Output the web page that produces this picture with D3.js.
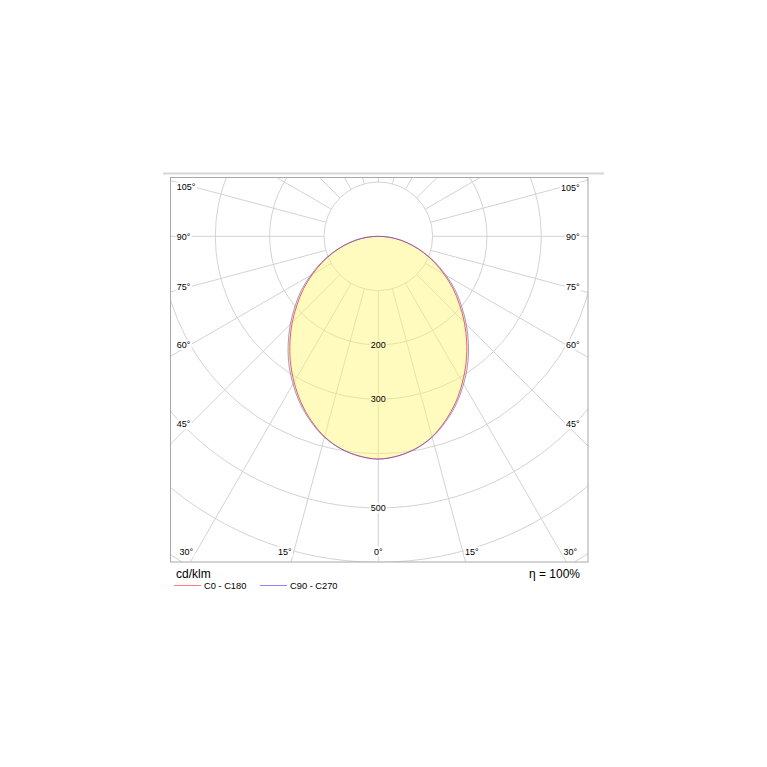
<!DOCTYPE html>
<html>
<head>
<meta charset="utf-8">
<script src="https://cdn.jsdelivr.net/npm/d3@7"></script>
<style>
html,body{margin:0;padding:0;background:#fff;}
svg{display:block;}
text{font-family:"Liberation Sans",Arial,sans-serif;fill:#000;}
</style>
</head>
<body>
<svg id="chart" width="767" height="767"></svg>
<script>
// ---- data (cd/klm) ----
const gammaAngles = [0,5,10,15,20,25,30,35,40,45,50,55,60,65,70,75,80,85,90];
const c0c180  = [410,406,397,382,361,337,310,282,253,224,195,168,140,114,89,65,43,21,0];
const c90c270 = [410,406,397,383,363,340,314,287,258,229,200,173,144,117,91,66,43,21,0];
const gridValues = [100,200,300,400,500,600,700,800];
const valueLabels = [200,300,500];
const spokeAngles = [0,15,30,45,60,75,90,105,120,135,150,165,180];
const sideLabelAngles = [45,60,75,90,105];
const bottomLabelAngles = [0,15,30];
const seriesNames = ["C0 - C180","C90 - C270"];
const unitText = "cd/klm";
const effText = "\u03b7 = 100%";

// ---- layout ----
const svg = d3.select("#chart");
const cx = 378.3, cy = 236.3;
const fx0 = 170.5, fx1 = 588, fy0 = 177.5, fy1 = 562;
const r = d3.scaleLinear().domain([0,700]).range([0,380.3]);
const rad = d => d*Math.PI/180;
const colRed = "#ee4444", colBlue = "#5555ee";

// top rule
svg.append("line").attr("x1",163).attr("x2",604).attr("y1",173.5).attr("y2",173.5)
  .attr("stroke","#d6d6d6").attr("stroke-width",2);

svg.append("clipPath").attr("id","frameClip").append("rect")
  .attr("x",fx0).attr("y",fy0).attr("width",fx1-fx0).attr("height",fy1-fy0);

const grid = svg.append("g").attr("clip-path","url(#frameClip)");
grid.selectAll("circle.g").data(gridValues).join("circle")
  .attr("cx",cx).attr("cy",cy).attr("r",d=>r(d))
  .attr("fill","none").attr("stroke","#d3d3d3").attr("stroke-width",1);

const spokeData = [];
spokeAngles.forEach(a=>{ spokeData.push({a:a,s:1}); if(a>0 && a<180) spokeData.push({a:a,s:-1}); });
grid.selectAll("line.sp").data(spokeData).join("line")
  .attr("x1",d=>cx + d.s*r(100)*Math.sin(rad(d.a)))
  .attr("y1",d=>cy + r(100)*Math.cos(rad(d.a)))
  .attr("x2",d=>cx + d.s*r(1000)*Math.sin(rad(d.a)))
  .attr("y2",d=>cy + r(1000)*Math.cos(rad(d.a)))
  .attr("stroke","#d3d3d3").attr("stroke-width",1);

// label backgrounds (under the fill) and label texts (over the fill)
const bgG = svg.append("g");
const plot = svg.append("g").attr("transform",`translate(${cx},${cy})`);
const txtG = svg.append("g");
function addLabel(txt, x, y, anchor){
  const rect = bgG.append("rect").attr("fill","#fff");
  const t = txtG.append("text").attr("x",x).attr("y",y).attr("text-anchor",anchor)
    .attr("font-size","9px").text(txt);
  return {rect, t};
}
function fitRect(l){
  const b = l.t.node().getBBox();
  l.rect.attr("x",b.x-1).attr("y",b.y).attr("width",b.width+2).attr("height",b.height);
}
const capHalf = 3.2;
sideLabelAngles.forEach(a=>{
  [-1,1].forEach(s=>{
    const l = addLabel(a+"\u00b0", s<0 ? 176.7 : 579.5, 0, s<0 ? "start" : "end");
    const w = l.t.node().getComputedTextLength();
    const xin = s<0 ? 176.7 + w : 579.5 - w;
    const dx = Math.abs(cx - xin);
    const y = cy + dx/Math.tan(rad(a));
    l.t.attr("y", y + capHalf);
    fitRect(l);
  });
});
const bottomBase = 554.5;
bottomLabelAngles.forEach(a=>{
  if(a===0){ const l = addLabel("0\u00b0", cx, bottomBase, "middle"); fitRect(l); return; }
  const dx = (bottomBase - cy)*Math.tan(rad(a));
  [-1,1].forEach(s=>{
    const l = addLabel(a+"\u00b0", cx + s*(dx+1.5), bottomBase, s<0 ? "end" : "start");
    fitRect(l);
  });
});
valueLabels.forEach(v=>{
  const l = addLabel(String(v), cx, cy + r(v) + capHalf, "middle");
  fitRect(l);
});

// ---- curves ----
function loop(vals){
  const pts = [];
  gammaAngles.forEach((g,i)=>pts.push({g:g, v:vals[i]}));
  for(let i=gammaAngles.length-2;i>=1;i--) pts.push({g:-gammaAngles[i], v:vals[i]});
  return pts;
}
const radial = d3.lineRadial()
  .angle(d=>Math.PI - rad(d.g))
  .radius(d=>r(d.v))
  .curve(d3.curveCatmullRomClosed.alpha(0.5));

plot.append("path").attr("d",radial(loop(c90c270)))
  .attr("fill","#fff46e").attr("fill-opacity",0.45).attr("stroke","none");
plot.append("path").attr("d",radial(loop(c0c180)))
  .attr("fill","none").attr("stroke",colRed).attr("stroke-width",1).attr("stroke-opacity",0.85);
plot.append("path").attr("d",radial(loop(c90c270)))
  .attr("fill","none").attr("stroke",colBlue).attr("stroke-width",1).attr("stroke-opacity",0.6);

// frame
svg.append("rect").attr("x",fx0).attr("y",fy0).attr("width",fx1-fx0).attr("height",fy1-fy0)
  .attr("fill","none").attr("stroke","#a8a8a8").attr("stroke-width",1);

// footer
svg.append("text").attr("x",176).attr("y",578).attr("font-size","12px").text(unitText);
svg.append("text").attr("x",580).attr("y",578).attr("text-anchor","end").attr("font-size","12px").text(effText);

const legendX = [174, 260];
const legCols = ["#ff7a7a", "#8a8aff"];
seriesNames.forEach((n,i)=>{
  svg.append("line").attr("x1",legendX[i]).attr("x2",legendX[i]+27).attr("y1",585.5).attr("y2",585.5)
    .attr("stroke",legCols[i]).attr("stroke-width",1);
  svg.append("text").attr("x",legendX[i]+30).attr("y",588.5).attr("font-size","9.3px").text(n);
});
</script>
</body>
</html>
